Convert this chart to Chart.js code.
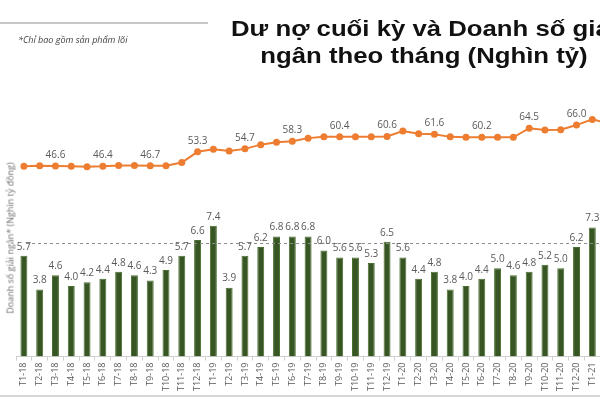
<!DOCTYPE html>
<html>
<head>
<meta charset="utf-8">
<script src="https://cdn.jsdelivr.net/npm/chart.js@4.4.1/dist/chart.umd.min.js"></script>
<style>
  html, body { margin: 0; padding: 0; background: #fff; overflow: hidden; }
  #wrap { position: relative; width: 600px; height: 399px; overflow: hidden; }
  #box { position: absolute; left: 0; top: 0; width: 640px; height: 399px; }
  #topline { position: absolute; left: 0; top: 22px; width: 208px; height: 2px; background: #c8c8c8; }
  #bottomline { position: absolute; left: 0; top: 395px; width: 600px; height: 2px; background: #d6d6d6; }
  #note { position: absolute; left: 18px; top: 33px; font: italic 9px "Open Sans", sans-serif; color: #404040; white-space: nowrap; }
  #title { position: absolute; left: 424px; top: 15px; transform: translateX(-50%) scaleX(1.17); white-space: nowrap; text-align: center;
           font: bold 22px "Liberation Sans", Arial, sans-serif; line-height: 27px; color: #111; }
  #ytitle { position: absolute; left: 10px; top: 238px; transform: translate(-50%, -50%) rotate(-90deg); white-space: nowrap;
            font: 9px "Open Sans", sans-serif; color: #6f6f6f; }
</style>
</head>
<body>
<div id="wrap">
  <div id="box"><canvas id="chart"></canvas></div>
  <div id="topline"></div>
  <div id="note">*Chỉ bao gồm sản phẩm lõi</div>
  <div id="title">Dư nợ cuối kỳ và Doanh số giải<br>ngân theo tháng (Nghìn tỷ)</div>
  <div id="ytitle">Doanh số giải ngân* (Nghìn tỷ đồng)</div>
  <div id="bottomline"></div>
</div>
<script>
// tháng
const months = [
  'T1-18', 'T2-18', 'T3-18', 'T4-18', 'T5-18', 'T6-18', 'T7-18', 'T8-18', 'T9-18', 'T10-18', 'T11-18', 'T12-18',
  'T1-19', 'T2-19', 'T3-19', 'T4-19', 'T5-19', 'T6-19', 'T7-19', 'T8-19', 'T9-19', 'T10-19', 'T11-19', 'T12-19',
  'T1-20', 'T2-20', 'T3-20', 'T4-20', 'T5-20', 'T6-20', 'T7-20', 'T8-20', 'T9-20', 'T10-20', 'T11-20', 'T12-20',
  'T1-21', 'T2-21'
];
// doanh số giải ngân (cột)
const disbursement = [
  5.7, 3.8, 4.6, 4.0, 4.2, 4.4, 4.8, 4.6, 4.3, 4.9, 5.7, 6.6,
  7.4, 3.9, 5.7, 6.2, 6.8, 6.8, 6.8, 6.0, 5.6, 5.6, 5.3, 6.5,
  5.6, 4.4, 4.8, 3.8, 4.0, 4.4, 5.0, 4.6, 4.8, 5.2, 5.0, 6.2,
  7.3, null
];
// dư nợ cuối kỳ (đường)
const outstanding = [
  46.5, 46.7, 46.6, 46.5, 46.2, 46.4, 46.8, 46.8, 46.7, 46.7, 48.2, 53.3,
  54.5, 53.7, 54.7, 56.7, 57.8, 58.3, 59.8, 60.5, 60.4, 60.4, 60.5, 60.6,
  63.2, 61.9, 61.6, 60.4, 60.2, 60.2, 60.2, 60.2, 64.5, 63.7, 63.8, 66.0,
  68.7, 66.8
];
// điểm có nhãn trên đường
const lineLabelIdx = [2, 5, 8, 11, 14, 17, 20, 23, 26, 29, 32, 35];
const refLevel = 6.4;

const valueLabels = {
  id: 'valueLabels',
  afterDatasetsDraw(chart) {
    const ctx = chart.ctx;
    const area = chart.chartArea;
    const yRef = Math.round(chart.scales.y.getPixelForValue(refLevel)) + 0.5;
    ctx.save();
    ctx.setLineDash([3, 3]);
    ctx.strokeStyle = '#8c8c8c';
    ctx.lineWidth = 1;
    ctx.beginPath();
    ctx.moveTo(area.left + 10, yRef);
    ctx.lineTo(area.right, yRef);
    ctx.stroke();
    ctx.setLineDash([]);

    ctx.font = '10px "Open Sans"';
    ctx.fillStyle = '#595959';
    ctx.textAlign = 'center';
    ctx.textBaseline = 'middle';
    chart.getDatasetMeta(0).data.forEach((bar, i) => {
      if (disbursement[i] == null) return;
      ctx.fillText(disbursement[i].toFixed(1), bar.x, bar.y - 9);
    });
    chart.getDatasetMeta(1).data.forEach((pt, i) => {
      if (!lineLabelIdx.includes(i)) return;
      ctx.fillText(outstanding[i].toFixed(1), pt.x, pt.y - 11);
    });
    ctx.restore();
  }
};

new Chart(document.getElementById('chart'), {
  type: 'bar',
  data: {
    labels: months,
    datasets: [
      {
        label: 'Doanh số giải ngân',
        data: disbursement,
        backgroundColor: '#375623',
        borderColor: '#4a7030',
        borderWidth: 1,
        barPercentage: 0.44,
        categoryPercentage: 1,
        yAxisID: 'y'
      },
      {
        type: 'line',
        label: 'Dư nợ cuối kỳ',
        data: outstanding,
        borderColor: '#ED7D31',
        backgroundColor: '#ED7D31',
        borderWidth: 2,
        pointRadius: 2.5,
        pointHoverRadius: 2.5,
        tension: 0,
        clip: false,
        yAxisID: 'y1'
      }
    ]
  },
  options: {
    responsive: true,
    maintainAspectRatio: false,
    animation: false,
    layout: { padding: { left: 16, right: 24, top: 100, bottom: 6 } },
    plugins: {
      legend: { display: false },
      tooltip: { enabled: false }
    },
    scales: {
      x: {
        grid: { display: true, drawOnChartArea: false, tickLength: 4, color: '#d0d0d0' },
        border: { color: '#d0d0d0' },
        ticks: {
          minRotation: 90, maxRotation: 90, autoSkip: false, padding: 2,
          color: '#595959', font: { family: 'Open Sans', size: 9 }
        }
      },
      y: { display: false, min: 0, max: 14.52 },
      y1: { display: false, min: -43.9, max: 77.9 }
    }
  },
  plugins: [valueLabels]
});
</script>
</body>
</html>
